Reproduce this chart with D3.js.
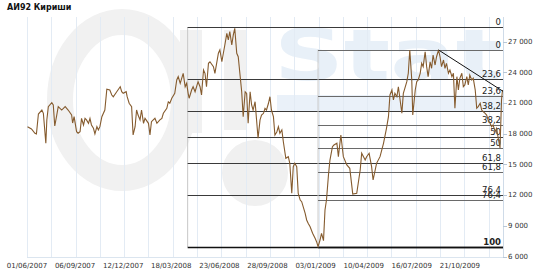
<!DOCTYPE html>
<html>
<head>
<meta charset="utf-8">
<script src="https://cdn.jsdelivr.net/npm/d3@7"></script>
<style>
  body { margin: 0; background: #fff; }
  svg { display: block; font-family: "DejaVu Sans", Verdana, sans-serif; }
</style>
</head>
<body>
<svg id="chart" width="550" height="275"></svg>
<script>
// АИ92 Кириши, daily price
const prices = [
  ["2007-06-02",18690],["2007-06-10",18470],["2007-06-17",18050],["2007-06-20",17980],["2007-06-24",19930],
  ["2007-07-01",20320],["2007-07-04",20000],["2007-07-09",17070],["2007-07-11",19350],["2007-07-14",20650],
  ["2007-07-21",21040],["2007-07-24",20810],["2007-07-27",18760],["2007-07-31",19830],["2007-08-03",20650],
  ["2007-08-10",20320],["2007-08-17",20650],["2007-08-23",20320],["2007-08-30",19830],["2007-09-01",19050],
  ["2007-09-04",19670],["2007-09-09",18200],["2007-09-12",18050],["2007-09-16",18200],["2007-09-19",19510],
  ["2007-09-23",18860],["2007-09-26",19510],["2007-09-29",19350],["2007-10-03",19020],["2007-10-06",19510],
  ["2007-10-09",18860],["2007-10-13",18530],["2007-10-16",17980],["2007-10-20",18690],["2007-10-23",18370],
  ["2007-10-26",18690],["2007-10-30",19670],["2007-11-05",20320],["2007-11-09",22350],["2007-11-15",22280],
  ["2007-11-19",21790],["2007-11-22",21620],["2007-11-29",22110],["2007-12-06",22600],["2007-12-09",22110],
  ["2007-12-12",21950],["2007-12-18",22110],["2007-12-20",21620],["2007-12-24",20980],["2007-12-29",20650],
  ["2008-01-01",17880],["2008-01-05",18690],["2008-01-08",20320],["2008-01-11",19830],["2008-01-15",19350],
  ["2008-01-18",20320],["2008-01-22",19020],["2008-01-25",19510],["2008-02-01",19020],["2008-02-04",17880],
  ["2008-02-07",19180],["2008-02-14",19510],["2008-02-18",19020],["2008-02-24",19350],["2008-02-28",19510],
  ["2008-03-02",20000],["2008-03-09",20490],["2008-03-12",21130],["2008-03-15",20980],["2008-03-19",21470],
  ["2008-03-25",21950],["2008-03-29",23260],["2008-04-01",23580],["2008-04-05",22930],["2008-04-11",23910],
  ["2008-04-15",22600],["2008-04-18",22930],["2008-04-21",21950],["2008-04-23",21470],["2008-04-28",22280],
  ["2008-05-01",22600],["2008-05-05",22110],["2008-05-11",23090],["2008-05-15",22600],["2008-05-18",21790],
  ["2008-05-22",24230],["2008-05-25",23910],["2008-05-28",22600],["2008-06-01",24890],["2008-06-04",25040],
  ["2008-06-11",24560],["2008-06-14",23910],["2008-06-21",25870],["2008-06-24",26190],["2008-06-28",25040],
  ["2008-07-01",25870],["2008-07-04",26680],["2008-07-08",27820],["2008-07-11",27170],["2008-07-14",27980],
  ["2008-07-18",26680],["2008-07-21",27650],["2008-07-24",28310],["2008-07-28",25870],["2008-07-31",25530],
  ["2008-08-04",23580],["2008-08-07",22110],["2008-08-10",19670],["2008-08-14",22110],["2008-08-17",21950],
  ["2008-08-20",19020],["2008-08-24",22110],["2008-08-27",20810],["2008-08-30",20320],["2008-09-03",21130],
  ["2008-09-06",19350],["2008-09-09",17560],["2008-09-13",19350],["2008-09-16",19830],["2008-09-20",20000],
  ["2008-09-23",20490],["2008-09-26",20320],["2008-09-30",20980],["2008-10-03",21620],["2008-10-06",20320],
  ["2008-10-10",19670],["2008-10-13",17880],["2008-10-17",18200],["2008-10-20",18690],["2008-10-23",18050],
  ["2008-10-27",18370],["2008-10-30",17220],["2008-11-04",15600],["2008-11-09",15760],["2008-11-12",15110],
  ["2008-11-16",12180],["2008-11-19",14780],["2008-11-22",15110],["2008-11-26",14780],["2008-11-29",12180],
  ["2008-12-03",11520],["2008-12-06",11360],["2008-12-13",10220],["2008-12-16",9570],["2008-12-19",9250],
  ["2008-12-23",8910],["2008-12-28",8270],["2009-01-02",7780],["2009-01-05",7450],["2009-01-08",6960],
  ["2009-01-12",7610],["2009-01-15",8270],["2009-01-19",7550],["2009-01-22",10550],["2009-01-25",11520],
  ["2009-01-29",13970],["2009-02-01",15430],["2009-02-06",16740],["2009-02-09",16900],["2009-02-15",17070],
  ["2009-02-18",15760],["2009-02-23",17880],["2009-02-28",15760],["2009-03-07",14950],["2009-03-13",14620],
  ["2009-03-19",12110],["2009-03-27",12180],["2009-04-03",14460],["2009-04-06",16090],["2009-04-13",15430],
  ["2009-04-16",15760],["2009-04-21",16090],["2009-04-26",14780],["2009-04-29",13480],["2009-05-06",15110],
  ["2009-05-13",15760],["2009-05-20",17070],["2009-05-26",18530],["2009-05-30",19670],["2009-06-02",21790],
  ["2009-06-06",22280],["2009-06-09",21300],["2009-06-12",21950],["2009-06-16",21620],["2009-06-19",22600],
  ["2009-06-22",21470],["2009-06-26",20000],["2009-06-29",21950],["2009-07-02",22440],["2009-07-06",23090],
  ["2009-07-09",23910],["2009-07-12",26190],["2009-07-16",23260],["2009-07-18",19830],["2009-07-23",22280],
  ["2009-07-26",23090],["2009-07-29",23260],["2009-08-02",23910],["2009-08-05",24890],["2009-08-08",24560],
  ["2009-08-12",26020],["2009-08-15",24560],["2009-08-18",23580],["2009-08-22",25040],["2009-08-25",24400],
  ["2009-08-28",25700],["2009-09-01",24720],["2009-09-04",25530],["2009-09-08",26190],["2009-09-11",25530],
  ["2009-09-14",24560],["2009-09-18",25210],["2009-09-21",24400],["2009-09-24",24890],["2009-09-28",23910],
  ["2009-10-01",24230],["2009-10-05",23580],["2009-10-08",23910],["2009-10-11",20490],["2009-10-15",23580],
  ["2009-10-18",22280],["2009-10-21",23420],["2009-10-25",23910],["2009-10-28",22600],["2009-10-31",22770],
  ["2009-11-04",23580],["2009-11-07",22770],["2009-11-10",23740],["2009-11-14",23260],["2009-11-17",23420],
  ["2009-11-21",22280],["2009-11-24",20490],["2009-11-27",20650],["2009-12-01",20980],["2009-12-04",20320],
  ["2009-12-07",20160],["2009-12-11",20000],["2009-12-14",19830],["2009-12-17",19350],["2009-12-21",19020],
  ["2009-12-24",18690],["2009-12-27",18860],["2009-12-31",18200],["2010-01-03",18530],["2010-01-07",17390],
  ["2010-01-10",16610],["2010-01-13",21300],["2010-01-15",22280]
];

const title = "АИ92  Кириши";
const xTickLabels = ["01/06/2007","06/09/2007","12/12/2007","18/03/2008","23/06/2008",
                     "28/09/2008","03/01/2009","10/04/2009","16/07/2009","21/10/2009"];
const yTicks = [6000, 9000, 12000, 15000, 18000, 21000, 24000, 27000];

// fibonacci retracement levels, two sets: start date, high, low
const fibLevels = [0, 23.6, 38.2, 50, 61.8, 76.4, 100];
const fibSets = [
  {start: "2008-04-20", high: 28440, low: 6930},
  {start: "2009-01-08", high: 26220, low: 6930}
];
// downtrend line from the autumn 2009 peak
const trend = [["2009-09-08", 26190], ["2010-01-16", 22150]];

const parse = d3.timeParse("%Y-%m-%d");
const parseTick = d3.timeParse("%d/%m/%Y");

const svg = d3.select("#chart");
const plotL = 27, plotR = 503, plotT = 17, plotB = 257;

const x = d3.scaleTime()
  .domain([parse("2007-06-01"), parse("2010-01-16")])
  .range([plotL, plotR]);
const y = d3.scaleLinear()
  .domain([6000, 27000])
  .range([256.5, 41.7]);

// watermark (faint logo behind the chart)
const wm = svg.append("g");
wm.append("ellipse").attr("cx", 122).attr("cy", 100).attr("rx", 62).attr("ry", 78)
  .attr("fill", "none").attr("stroke", "#f1f1f1").attr("stroke-width", 26);
wm.append("rect").attr("x", 180).attr("y", 30).attr("width", 22).attr("height", 103).attr("fill", "#f1f1f1");
wm.append("rect").attr("x", 224).attr("y", 30).attr("width", 22).attr("height", 100).attr("fill", "#f1f1f1");
wm.append("circle").attr("cx", 255).attr("cy", 173).attr("r", 33).attr("fill", "#f0f0f0");
wm.append("rect").attr("x", 277).attr("y", 95).attr("width", 226).attr("height", 17).attr("fill", "#eaf1f9");
wm.append("text").attr("x", 274).attr("y", 80).text("Stat")
  .attr("font-size", 72).attr("font-weight", "bold").attr("fill", "#e8f0f8")
  .attr("textLength", 228).attr("lengthAdjust", "spacingAndGlyphs");

// vertical gridlines every 7 weeks
const grid = d3.range(0, 20).map(k => d3.timeDay.offset(x.domain()[0], 49 * k));
svg.append("g").selectAll("line").data(grid).join("line")
  .attr("x1", d => Math.round(x(d)) + 0.5).attr("x2", d => Math.round(x(d)) + 0.5)
  .attr("y1", plotT).attr("y2", plotB)
  .attr("stroke", "#e3ebf4");

// axes frame
svg.append("line").attr("x1", plotL).attr("x2", plotR).attr("y1", plotB + 0.5).attr("y2", plotB + 0.5)
  .attr("stroke", "#dbe5ef");
svg.append("line").attr("x1", plotR + 0.5).attr("x2", plotR + 0.5).attr("y1", plotT).attr("y2", plotB)
  .attr("stroke", "#cfdbe8");

// fibonacci sets
fibSets.forEach((s, i) => {
  const g = svg.append("g");
  const x0 = x(parse(s.start));
  const lev = p => s.high - (s.high - s.low) * p / 100;
  g.append("line").attr("x1", x0).attr("x2", x0)
    .attr("y1", y(s.high)).attr("y2", y(s.low))
    .attr("stroke", "#c8c8c8");
  g.selectAll("line.lvl").data(fibLevels).join("line").attr("class", "lvl")
    .attr("x1", x0).attr("x2", plotR)
    .attr("y1", d => Math.round(y(lev(d))) + 0.5).attr("y2", d => Math.round(y(lev(d))) + 0.5)
    .attr("stroke", d => d === 100 ? "#111" : (i === 0 ? "#3a3a3a" : "#6a6a6a"))
    .attr("stroke-width", d => d === 100 ? 1.3 : 1.1);
  g.selectAll("text").data(fibLevels.filter(d => !(i === 1 && d === 100))).join("text")
    .attr("x", 501).attr("y", d => y(lev(d)) - 2)
    .attr("text-anchor", "end")
    .attr("font-size", 8.5)
    .attr("font-weight", d => d === 100 ? "bold" : "normal")
    .attr("fill", "#222")
    .text(d => String(d).replace(".", ","));
});

// price line
const line = d3.line().x(d => x(parse(d[0]))).y(d => y(d[1]));
svg.append("path").datum(prices)
  .attr("d", line)
  .attr("fill", "none")
  .attr("stroke", "#855b2e")
  .attr("stroke-width", 1.1);

// trend line
svg.append("path").datum(trend)
  .attr("d", line)
  .attr("fill", "none")
  .attr("stroke", "#111")
  .attr("stroke-width", 1);

// x tick labels
svg.append("g").selectAll("text").data(xTickLabels).join("text")
  .attr("x", d => x(parseTick(d)))
  .attr("y", 267.5)
  .attr("text-anchor", "middle")
  .attr("font-size", 7)
  .attr("fill", "#333")
  .text(d => d);

// y axis on the right
const fmt = d3.formatLocale({decimal: ",", thousands: " ", grouping: [3], currency: ["", ""]}).format(",");
const yg = svg.append("g");
yg.selectAll("line").data(yTicks).join("line")
  .attr("x1", plotR).attr("x2", plotR + 4)
  .attr("y1", d => Math.round(y(d)) + 0.5).attr("y2", d => Math.round(y(d)) + 0.5)
  .attr("stroke", "#b8c8d8");
yg.selectAll("text").data(yTicks).join("text")
  .attr("x", 508).attr("y", d => y(d))
  .attr("dy", "0.33em")
  .attr("font-size", 7)
  .attr("fill", "#333")
  .text(d => fmt(d));

// title
svg.append("text").attr("x", 7).attr("y", 9.5)
  .attr("font-size", 8).attr("font-weight", "bold").attr("fill", "#111")
  .text(title);
</script>
</body>
</html>
